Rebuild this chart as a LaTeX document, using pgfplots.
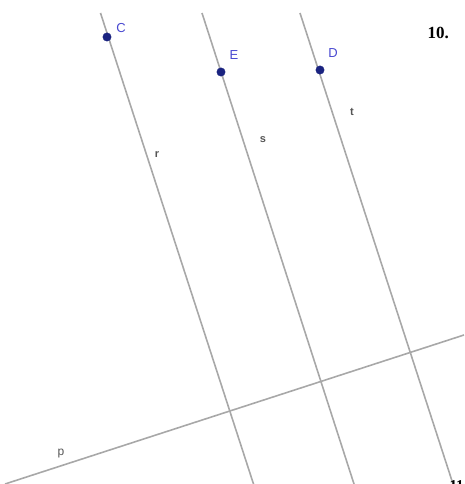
\documentclass[border=0pt]{standalone}
\usepackage{pgfplots}
\pgfplotsset{compat=1.18}
\usepackage{fontspec}
\setmainfont{Liberation Sans}
\newfontfamily\serifb{Liberation Serif}
\definecolor{lgray}{HTML}{A8A8A8}
\definecolor{ptblue}{HTML}{1A2380}
\definecolor{lblblue}{HTML}{4848D0}
\definecolor{tgray}{HTML}{555555}
\begin{document}
\begin{tikzpicture}
\begin{axis}[
  scale only axis, width=464pt, height=484pt,
  xmin=0, xmax=464, ymin=0, ymax=484,
  hide axis, clip=true,
]
% lines (pixel coords, y flipped: y = 484 - py)
\addplot[lgray, line width=1.6pt] coordinates {(100.5,471) (253.5,0)}; % r
\addplot[lgray, line width=1.6pt] coordinates {(202,471) (354,0)};     % s
\addplot[lgray, line width=1.6pt] coordinates {(300,471) (453,0)};     % t
\addplot[lgray, line width=1.6pt] coordinates {(5,0) (464,149)};       % p
% points
\addplot[only marks, mark=*, mark size=4.2pt, ptblue] coordinates {(107,447) (221,412) (320,414)};
% labels
\node[lblblue, font=\fontsize{13}{13}\selectfont] at (axis cs:121,456) {C};
\node[lblblue, font=\fontsize{13}{13}\selectfont] at (axis cs:234,429) {E};
\node[lblblue, font=\fontsize{13}{13}\selectfont] at (axis cs:333,431) {D};
\node[tgray, font=\bfseries\fontsize{11}{11}\selectfont] at (axis cs:157,329) {r};
\node[tgray, font=\bfseries\fontsize{11}{11}\selectfont] at (axis cs:263,344) {s};
\node[tgray, font=\bfseries\fontsize{11}{11}\selectfont] at (axis cs:352,372) {t};
\node[tgray, font=\fontsize{12}{12}\selectfont] at (axis cs:61,30) {p};
\node[black, font=\serifb\bfseries\fontsize{17}{17}\selectfont, anchor=west] at (axis cs:424,451) {10.};
\node[black, font=\serifb\bfseries\fontsize{15}{15}\selectfont, anchor=west] at (axis cs:446,-2) {11.};
\end{axis}
\path (0,0) rectangle (464pt,484pt);
\end{tikzpicture}
\end{document}
